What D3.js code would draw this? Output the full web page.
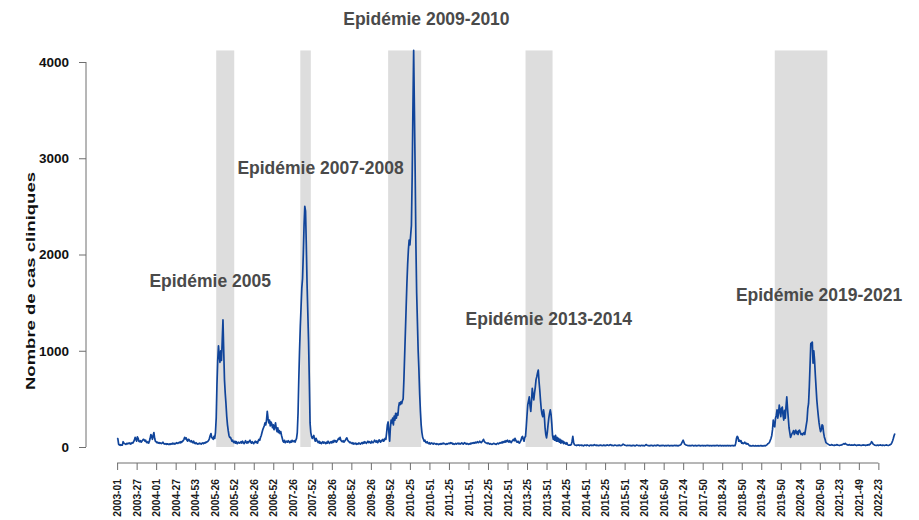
<!DOCTYPE html>
<html>
<head>
<meta charset="utf-8">
<script src="https://cdn.jsdelivr.net/npm/d3@7"></script>
<style>
  body { margin: 0; background: #ffffff; }
  svg { display: block; font-family: "Liberation Sans", Arial, sans-serif; }
</style>
</head>
<body>
<div id="chart"></div>
<script>
// nombre de cas cliniques par semaine, 2003-01 -> 2022-36 environ
const cases2003to2005 = [
  90, 85, 30, 20, 25, 18, 22, 20, 55, 40, 35, 30, 28, 38, 32, 40,
  35, 42, 30, 36, 45, 40, 55, 70, 100, 85, 60, 105, 90, 60, 55, 65,
  50, 60, 70, 80, 75, 60, 70, 50, 45, 55, 40, 60, 90, 130, 110, 80,
  120, 150, 90, 60, 55, 45, 50, 40, 45, 38, 42, 35, 40, 50, 36, 32,
  30, 35, 28, 33, 30, 25, 32, 28, 35, 30, 40, 32, 38, 30, 35, 45,
  40, 38, 45, 50, 42, 55, 48, 60, 65, 80, 100, 85, 95, 70, 60, 80,
  75, 60, 55, 65, 50, 45, 60, 40, 35, 45, 38, 30, 35, 32, 40, 36,
  30, 38, 42, 35, 45, 40, 50, 48, 55, 60, 70, 90, 120, 140, 100, 90,
  80, 110, 90
];
const epi2005 = [
  150, 300, 650, 900, 1050, 950, 880, 1000, 900, 1100,
  1320, 1000, 700, 560, 450, 320, 230, 170, 120, 100
];
const cases2005to2007 = [
  100, 80, 60, 70, 50, 45, 60, 40, 55, 35, 45, 50, 40,
  45, 55, 40, 60, 50, 35, 45, 65, 50, 40, 55, 45, 60, 70, 50, 40, 55, 45, 35, 50, 60, 45, 55, 40, 65, 80, 70,
  100, 120, 150, 180, 200, 220, 250, 230, 280, 370,
  300, 250, 280, 220, 260, 240, 200, 230, 180, 210, 250, 190, 160, 200, 150, 170, 140, 160, 120,
  90, 60, 50, 70, 45, 55, 60, 50, 65, 55, 45, 60, 50, 70, 55, 60, 65, 50, 70, 90
];
const epi2007 = [
  150, 350, 700, 1000, 1250, 1450, 1650, 1750, 2000, 2300,
  2500, 2450, 2100, 1700, 1400, 1100, 700, 250, 150, 110, 90
];
const cases2008to2009 = [
  100, 120, 80, 60, 90, 70, 55, 45, 60, 40, 50, 35, 45, 55, 40, 50,
  45, 35, 50, 40, 60, 45, 38, 50, 55, 42, 60, 48, 70, 55, 65, 50,
  60, 75, 90, 80, 100, 70, 60, 55, 65, 50, 60, 70, 85, 95, 75, 60,
  55, 45, 50, 40, 35, 45, 30, 38, 32, 40, 28, 35, 30, 42, 36, 30,
  38, 45, 35, 50, 40, 55, 45, 38, 50, 60, 45, 55, 48, 40, 60, 50,
  45, 55, 70, 60, 50, 65, 45, 55, 75, 60, 50, 70, 65, 80, 60, 70, 90
];
const epi2009 = [
  80, 150, 230, 260, 150, 60, 200, 280, 250, 300,
  230, 320, 280, 350, 300, 350, 330, 420, 460, 440,
  470, 450, 480, 500, 700, 950, 1200, 1450, 1700, 1900,
  2050, 2150, 2100, 2200, 2300, 2800, 3500, 4120, 3500, 2860,
  2100, 1600, 1300, 1000, 800, 550, 370, 230, 150, 100
];
const cases2010to2013 = [
  80, 60, 70, 50, 45, 55, 40, 35, 45, 30, 38, 42, 35, 30, 40, 36,
  32, 28, 35, 30, 25, 32, 28, 35, 30, 38, 32, 40, 35, 30, 28, 34,
  30, 36, 40, 35, 45, 38, 42, 30, 35, 28, 32, 38, 30, 35, 40, 32,
  38, 30, 35, 42, 36, 30, 40, 45, 35, 30, 38, 32, 28, 35, 30, 40,
  35, 42, 38, 45, 40, 50, 42, 48, 55, 45, 50, 60, 52, 45, 55, 65,
  80, 60, 50, 45, 40, 35, 42, 38, 30, 35, 32, 28, 30, 35, 38, 32,
  30, 28, 35, 40, 32, 38, 45, 40, 50, 42, 55, 48, 60, 50, 65, 55,
  70, 60, 50, 65, 55, 45, 60, 70, 80, 65, 90, 70, 55, 50, 60, 45,
  40, 55, 70, 100
];
const epi2013 = [
  110, 80, 60, 100, 110, 210, 330, 440, 480, 520,
  430, 370, 480, 610, 540, 490, 560, 620, 700, 730,
  770, 800, 680, 590, 480, 390, 340, 315, 385, 330,
  200, 130, 95, 150, 230, 300, 350, 385, 340, 240,
  120, 80, 110, 70, 120, 60
];
const cases2014to2018 = [
  100, 60, 90, 50, 80, 40, 70, 45, 60, 35, 50, 40, 30, 45, 25, 20,
  18, 22, 20, 25, 60, 110, 50, 25, 20, 18, 15, 20, 18, 22, 15, 18,
  20, 15, 18, 12, 15, 20, 18, 15, 22, 18, 15, 12, 18, 20, 15, 18,
  15, 20, 25, 18, 15, 20, 16, 14, 18, 15, 20, 18, 14, 16, 20, 15,
  18, 14, 20, 22, 18, 15, 20, 25, 20, 15, 18, 14, 16, 20, 18, 15,
  14, 18, 15, 20, 16, 14, 18, 22, 30, 25, 20, 18, 15, 14, 18, 16,
  15, 18, 14, 12, 16, 15, 18, 14, 12, 15, 20, 18, 15, 14, 16, 12,
  15, 18, 14, 16, 12, 15, 22, 25, 18, 15, 14, 12, 16, 15, 18, 14,
  12, 15, 18, 14, 16, 15, 20, 18, 14, 12, 15, 16, 14, 18, 15, 12,
  14, 16, 12, 15, 18, 14, 12, 15, 14, 16, 12, 14, 15, 18, 14, 16,
  15, 12, 14, 18, 20, 25, 40, 55, 70, 50, 30, 25, 20, 18, 15, 14,
  16, 12, 15, 14, 18, 15, 12, 14, 16, 15, 12, 14, 15, 18, 14, 12,
  15, 14, 16, 12, 15, 14, 12, 15, 18, 14, 16, 12, 15, 14, 12, 15,
  14, 16, 12, 15, 14, 18, 15, 12, 14, 16, 15, 12, 14, 15, 12, 14,
  15, 12, 14, 16, 12, 15, 14, 12, 15, 14, 16, 12, 15, 14, 40, 90
];
const cases2018to2019 = [
  110, 100, 60, 70, 55, 65, 40, 45, 35, 40, 50, 35, 40, 30, 35, 25,
  15, 12, 14, 10, 12, 15, 12, 10, 14, 12, 10, 12, 14, 10, 12, 15,
  12, 14, 10, 12, 15, 12, 14, 20, 25, 35, 40, 50,
  70, 90, 120, 180, 280, 220
];
const epi2019 = [
  210, 300, 330, 385, 300, 350, 436, 380, 315, 400,
  415, 330, 280, 380, 300, 420, 520, 400, 300, 200,
  150, 100, 120, 140, 150, 170, 130, 160, 175, 140,
  160, 130, 170, 175, 150, 130, 140, 125, 140, 150,
  130, 180, 230, 280, 400, 450, 625, 850, 1075, 1080,
  1090, 870, 1000, 900, 750, 620, 490, 400, 320, 250,
  200, 160, 180, 230, 220, 150, 105, 80, 50, 40,
  35
];
const cases2021to2022 = [
  30, 25, 20, 18, 22, 25, 20, 18, 15, 20, 18, 22, 25, 20, 18, 15,
  18, 20, 22, 25, 30, 35, 30, 38, 30, 25, 22, 20, 25, 22, 18, 20,
  22, 18, 20, 25, 22, 18, 15, 20, 18, 22, 20, 18, 15, 18, 20, 22,
  18, 20, 15, 18, 22, 20, 25, 22, 30, 40, 55, 45, 30, 25, 20, 18,
  15, 18, 20, 15, 18, 20, 22, 18, 15, 20, 18, 15, 18, 20, 22, 18,
  15, 18, 22, 25, 30, 45, 65, 90, 120, 140
];

const weeklyCases = [].concat(
  cases2003to2005, epi2005, cases2005to2007, epi2007, cases2008to2009,
  epi2009, cases2010to2013, epi2013, cases2014to2018, cases2018to2019,
  epi2019, cases2021to2022
);

// une étiquette toutes les 26 semaines
const tickLabels = [
  "2003-01", "2003-27", "2004-01", "2004-27", "2004-53", "2005-26", "2005-52",
  "2006-26", "2006-52", "2007-26", "2007-52", "2008-26", "2008-52", "2009-26",
  "2009-52", "2010-25", "2010-51", "2011-25", "2011-51", "2012-25", "2012-51",
  "2013-25", "2013-51", "2014-25", "2014-51", "2015-25", "2015-51", "2016-24",
  "2016-50", "2017-24", "2017-50", "2018-24", "2018-50", "2019-24", "2019-50",
  "2020-24", "2020-50", "2021-23", "2021-49", "2022-23"
];
const tickStep = 26;
const yTicks = [0, 1000, 2000, 3000, 4000];

// périodes épidémiques (indices de semaine)
const epidemicStart = [132, 244, 361, 544, 876];
const epidemicEnd = [156, 258, 405, 580, 946];

// étiquettes : texte, semaine, nombre de cas
const labelTexts = ["Epidémie 2009-2010", "Epidémie 2007-2008", "Epidémie 2005",
                    "Epidémie 2013-2014", "Epidémie 2019-2021"];
const labelWeeks = [412, 271, 124, 575, 935];
const labelCases = [4384, 2836, 1660, 1268, 1520];

const width = 919, height = 520;
const lineColor = "#10449a";
const shadeColor = "#dddddd";
const axisColor = "#6e6e6e";
const labelColor = "#4a4a4a";

const svg = d3.select("#chart")
              .append("svg")
              .attr("width", width)
              .attr("height", height);

const n = weeklyCases.length;
const pad = 0.04 * (n - 1);
const x = d3.scaleLinear()
            .domain([-pad, n - 1 + pad])
            .range([86, 926]);
const y = d3.scaleLinear()
            .domain([0, 4000])
            .range([447, 62]);

const yMax = d3.max(weeklyCases);

// bandes grises
svg.append("g")
   .selectAll("rect")
   .data(epidemicStart.map((s, i) => [s, epidemicEnd[i]]))
   .enter()
   .append("rect")
   .attr("x", d => x(d[0]))
   .attr("width", d => x(d[1]) - x(d[0]))
   .attr("y", y(yMax))
   .attr("height", y(0) - y(yMax))
   .style("fill", shadeColor);

// étiquettes des épidémies
svg.append("g")
   .selectAll("text")
   .data(labelTexts)
   .enter()
   .append("text")
   .attr("x", (d, i) => x(labelWeeks[i]))
   .attr("y", (d, i) => y(labelCases[i]))
   .attr("text-anchor", "middle")
   .style("font-size", "17.5px")
   .style("font-weight", "bold")
   .style("fill", labelColor)
   .text(d => d);

// courbe
const line = d3.line()
               .x((d, i) => x(i))
               .y(d => y(d));

svg.append("path")
   .datum(weeklyCases)
   .attr("d", line)
   .style("fill", "none")
   .style("stroke", lineColor)
   .style("stroke-width", 1.7)
   .style("stroke-linejoin", "round");

// axe x
const xTickValues = tickLabels.map((d, i) => i * tickStep);
const xAxis = svg.append("g")
                 .attr("transform", "translate(0," + 463 + ")")
                 .call(d3.axisBottom(x)
                         .tickValues(xTickValues)
                         .tickFormat((d, i) => tickLabels[i])
                         .tickSize(7));
xAxis.select(".domain").remove();
xAxis.append("line")
     .attr("x1", x(xTickValues[0]))
     .attr("x2", x(xTickValues[xTickValues.length - 1]))
     .style("stroke", axisColor);
xAxis.selectAll(".tick line").style("stroke", axisColor);
xAxis.selectAll(".tick text")
     .attr("transform", "rotate(-90)")
     .attr("x", -16)
     .attr("y", 0)
     .attr("dy", "0.35em")
     .attr("text-anchor", "end")
     .style("font-size", "10.3px")
     .style("font-weight", "bold")
     .style("font-family", "'Liberation Sans', Arial, sans-serif")
     .style("fill", "#1a1a1a");

// axe y
const yAxis = svg.append("g")
                 .attr("transform", "translate(86,0)")
                 .call(d3.axisLeft(y)
                         .tickValues(yTicks)
                         .tickFormat(d3.format("d"))
                         .tickSize(7)
                         .tickPadding(10));
yAxis.select(".domain").remove();
yAxis.append("line")
     .attr("y1", y(yTicks[0]))
     .attr("y2", y(yTicks[yTicks.length - 1]))
     .style("stroke", axisColor);
yAxis.selectAll(".tick line").style("stroke", axisColor);
yAxis.selectAll(".tick text")
     .style("font-size", "13.5px")
     .style("font-weight", "bold")
     .style("font-family", "'Liberation Sans', Arial, sans-serif")
     .style("fill", "#111111");

svg.append("text")
   .attr("transform", "translate(35,281) rotate(-90)")
   .attr("text-anchor", "middle")
   .attr("textLength", 218)
   .attr("lengthAdjust", "spacingAndGlyphs")
   .style("font-size", "12px")
   .style("font-weight", "bold")
   .style("fill", "#111111")
   .text("Nombre de cas cliniques");
</script>
</body>
</html>
